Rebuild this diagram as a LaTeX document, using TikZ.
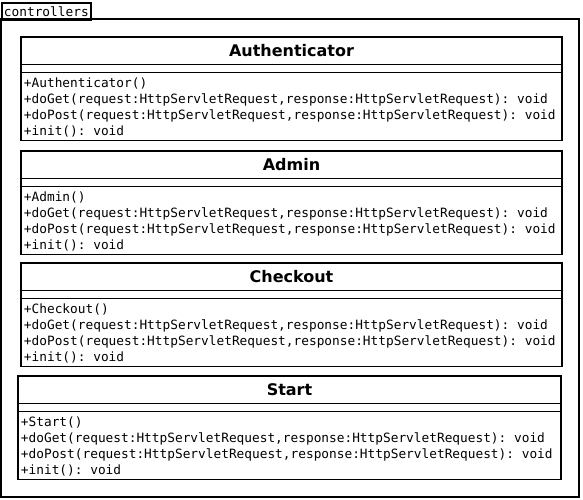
\documentclass[tikz,border=0pt]{standalone}
\usepackage{fontspec}
\setmainfont{DejaVu Sans}
\setmonofont{DejaVu Sans Mono}
\newcommand{\mono}{\fontsize{12.8}{15.8}\selectfont\ttfamily}
\newcommand{\sig}{(request:HttpServletRequest,response:HttpServletRequest): void}

\begin{document}
\begin{tikzpicture}[x=1pt,y=-1pt,line width=1.9pt,
   cname/.style={font=\fontsize{16}{18}\selectfont\bfseries,inner sep=0pt},
   ops/.style={anchor=north west,inner sep=0pt,align=left,font=\mono}]
   \useasboundingbox (0,0) rectangle (583,500);
   % package
   \draw (1,19) rectangle (579,497);
   \node[draw,anchor=north west,minimum width=89,minimum height=17,inner sep=0pt,font=\mono] (pkg) at (0.9,2) {controllers};
   % classes
   \foreach \name/\l/\r/\t in {Authenticator/21/562/37, Admin/21/562/151, Checkout/21/562/263, Start/18/561/376} {
      \draw (\l,\t) rectangle (\r,\t+103.5);
      \draw (\l,\t+27.5) -- (\r,\t+27.5);
      \draw (\l,\t+35.5) -- (\r,\t+35.5);
      \node[cname] (\name) at ({(\l+\r)/2},\t+13.5) {\name};
      \node[ops] (\name-ops) at (\l+2,\t+40) {+\name()\\+doGet\sig\\+doPost\sig\\+init(): void};
   }
\end{tikzpicture}
\end{document}
